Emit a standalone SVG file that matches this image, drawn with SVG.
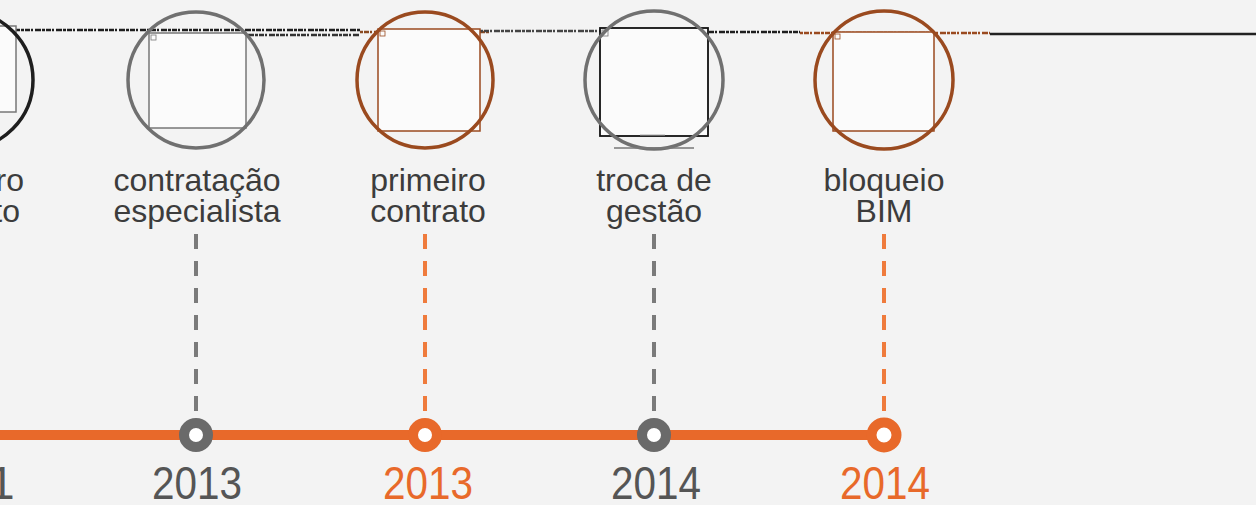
<svg xmlns="http://www.w3.org/2000/svg" width="1256" height="505" viewBox="0 0 1256 505">
<defs>
<style>
.lbl{font-family:"Liberation Sans",Arial,sans-serif;font-size:32px;fill:#3c3c3c;text-anchor:middle}
.lbe{font-family:"Liberation Sans",Arial,sans-serif;font-size:32px;fill:#3c3c3c;text-anchor:end}
.yr{font-family:"Liberation Sans",Arial,sans-serif;font-size:47px;text-anchor:middle}
.yg{fill:#555555}
.yo{fill:#e8692a}
.cg{fill:none;stroke:#707070;stroke-width:3.5}
.cb{fill:none;stroke:#9a4a1f;stroke-width:3.5}
.ck{fill:none;stroke:#1e1e1e;stroke-width:3.5}
.sq{fill:#fbfbfb;stroke:#777;stroke-width:1.5}
.sqb{fill:#fbfbfb;stroke:#9a4a1f;stroke-width:1.5}
.sqk{fill:#fbfbfb;stroke:#111;stroke-width:1.8}
.dg{stroke:#7a7a7a;stroke-width:4;stroke-dasharray:15 12}
.do{stroke:#ef7b3c;stroke-width:4;stroke-dasharray:15 12}
.ng{fill:#ffffff;stroke:#6a6a6a;stroke-width:10}
.no{fill:#ffffff;stroke:#e8692a;stroke-width:10}
.noise{stroke-width:2.5;stroke-dasharray:3 1 5 1 2 2 6 1}
</style>
</defs>
<rect x="0" y="0" width="1256" height="505" fill="#f3f3f3"/>

<g id="noise">
<line class="noise" x1="0" y1="30" x2="360" y2="30" stroke="#1e1e1e"/>
<line class="noise" x1="150" y1="35" x2="360" y2="35" stroke="#333"/>
<line class="noise" x1="360" y1="32" x2="490" y2="32" stroke="#8a4a20"/>
<line class="noise" x1="480" y1="31" x2="600" y2="31" stroke="#444"/>
<line class="noise" x1="600" y1="32" x2="800" y2="32" stroke="#1e1e1e"/>
<line class="noise" x1="800" y1="33" x2="990" y2="33" stroke="#9a4a1f"/>
<line x1="990" y1="34" x2="1256" y2="34" stroke="#222" stroke-width="2.5"/>
</g>

<g id="node1">
<rect class="sq" x="-90" y="26" width="106" height="86"/>
<circle class="ck" cx="-36" cy="80" r="69"/>
<text class="lbe"><tspan x="24" y="191">ro</tspan><tspan x="20" y="222">to</tspan></text>
<text class="yr yg" x="-11.5" y="499" style="text-anchor:start">1</text>
</g>

<g id="node2">
<rect class="sq" x="149" y="33" width="97" height="95"/>
<rect x="151" y="35" width="5" height="5" fill="none" stroke="#777" stroke-width="0.8"/>
<circle class="cg" cx="196" cy="80" r="68"/>
<text class="lbl"><tspan x="197" y="191">contratação</tspan><tspan x="197" y="222">especialista</tspan></text>
<text class="yr yg" x="197" y="499" textLength="90" lengthAdjust="spacingAndGlyphs">2013</text>
</g>

<g id="node3">
<rect class="sqb" x="378" y="29" width="102" height="102"/>
<rect x="380" y="31" width="5" height="5" fill="none" stroke="#9a4a1f" stroke-width="0.8"/>
<circle class="cb" cx="425" cy="80" r="68"/>
<text class="lbl"><tspan x="428" y="191">primeiro</tspan><tspan x="428" y="222">contrato</tspan></text>
<text class="yr yo" x="428" y="499" textLength="90" lengthAdjust="spacingAndGlyphs">2013</text>
</g>

<g id="node4">
<rect class="sqk" x="600" y="28" width="108" height="108"/>
<rect x="602" y="30" width="6" height="6" fill="none" stroke="#777" stroke-width="0.8"/>
<circle class="cg" cx="654" cy="80" r="69"/>
<line x1="614" y1="148" x2="694" y2="148" stroke="#777" stroke-width="1.5"/>
<line x1="640" y1="135" x2="665" y2="135" stroke="#aaa" stroke-width="1"/>
<text class="lbl"><tspan x="654" y="191">troca de</tspan><tspan x="654" y="222">gestão</tspan></text>
<text class="yr yg" x="656" y="499" textLength="90" lengthAdjust="spacingAndGlyphs">2014</text>
</g>

<g id="node5">
<rect class="sqb" x="833" y="32" width="101" height="99"/>
<rect x="835" y="34" width="5" height="5" fill="none" stroke="#9a4a1f" stroke-width="0.8"/>
<circle class="cb" cx="884" cy="80" r="69"/>
<text class="lbl"><tspan x="884" y="191">bloqueio</tspan><tspan x="884" y="222">BIM</tspan></text>
<text class="yr yo" x="885" y="499" textLength="90" lengthAdjust="spacingAndGlyphs">2014</text>
</g>

<g id="connectors">
<line x1="0" y1="435" x2="884" y2="435" stroke="#e8692a" stroke-width="10"/>
<line class="dg" x1="196" y1="234" x2="196" y2="420"/>
<line class="do" x1="425" y1="234" x2="425" y2="420"/>
<line class="dg" x1="654" y1="234" x2="654" y2="420"/>
<line class="do" x1="884" y1="234" x2="884" y2="420"/>
<circle class="ng" cx="196" cy="435" r="12"/>
<circle class="no" cx="425" cy="435" r="12"/>
<circle class="ng" cx="654" cy="435" r="12"/>
<circle class="no" cx="884" cy="435" r="12.5"/>
</g>
</svg>
